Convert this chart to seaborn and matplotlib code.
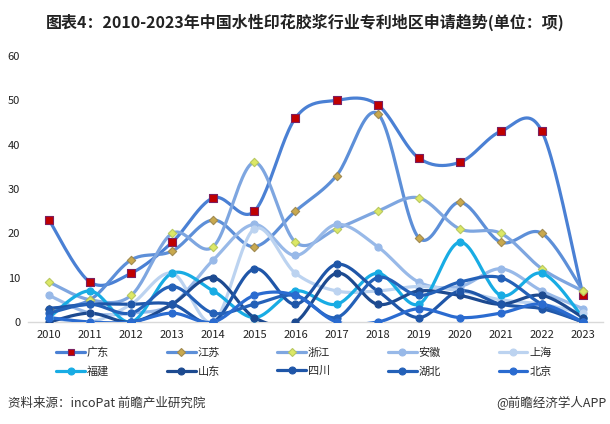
import numpy as np
import pandas as pd
import matplotlib
matplotlib.use("Agg")
import matplotlib.pyplot as plt
import seaborn as sns
from matplotlib.lines import Line2D

# ---------------- data ----------------
years = [2010, 2011, 2012, 2013, 2014, 2015, 2016, 2017, 2018, 2019, 2020, 2021, 2022, 2023]
regions = ["广东", "江苏", "浙江", "安徽", "上海", "福建", "山东", "四川", "湖北", "北京"]
guangdong = [23, 9, 11, 18, 28, 25, 46, 50, 49, 37, 36, 43, 43, 6]
jiangsu = [3, 5, 14, 16, 23, 17, 25, 33, 47, 19, 27, 18, 20, 7]
zhejiang = [9, 5, 6, 20, 17, 36, 18, 21, 25, 28, 21, 20, 12, 7]
anhui = [6, 2, 2, 4, 14, 22, 15, 22, 17, 9, 8, 12, 7, 3]
shanghai = [1, 0, 4, 11, 0, 21, 11, 7, 7, 8, 7, 5, 4, 2]
fujian = [1, 7, 0, 11, 7, 1, 7, 4, 11, 4, 18, 6, 11, 1]
shandong = [0, 2, 0, 4, 10, 1, 0, 11, 4, 7, 6, 4, 6, 1]
sichuan = [3, 4, 4, 4, 0, 12, 4, 13, 7, 1, 7, 4, 3, 0]
hubei = [2, 4, 2, 8, 2, 4, 6, 1, 10, 6, 9, 10, 4, 0]
beijing = [1, 0, 0, 2, 0, 6, 6, 0, 0, 3, 1, 2, 4, 0]
yticks = [0, 10, 20, 30, 40, 50, 60]

series_values = [guangdong, jiangsu, zhejiang, anhui, shanghai,
                 fujian, shandong, sichuan, hubei, beijing]

# ---------------- styles ----------------
line_colors = ["#4a80d4", "#5d8fd8", "#7ea6e0", "#98b9e8", "#bcd3f0",
               "#18ace4", "#1d4a90", "#1f56a8", "#2461b8", "#2a6bd0"]
marker_styles = ["s", "D", "D", "o", "o", "o", "o", "o", "o", "o"]
marker_faces = ["#c00000", "#c9a94e", "#dce866", "#98b9e8", "#bcd3f0",
                "#18ace4", "#1d4a90", "#1f56a8", "#2461b8", "#2a6bd0"]
marker_edges = ["#7a2060", "#a08a50", "#b8c860", "#98b9e8", "#bcd3f0",
                "#18ace4", "#1d4a90", "#1f56a8", "#2461b8", "#2a6bd0"]
marker_sizes = [28, 18, 18, 26, 26, 26, 26, 26, 26, 26]


def smooth(xs, ys, n=24):
    """Excel-like smoothed line (Catmull-Rom Bezier) for rendering."""
    xs = np.asarray(xs, float)
    ys = np.asarray(ys, float)
    P = np.column_stack([xs, ys])
    Pext = np.vstack([P[0], P, P[-1]])
    out = []
    t = np.linspace(0, 1, n, endpoint=False)[:, None]
    for i in range(len(P) - 1):
        p0, p1, p2, p3 = Pext[i], Pext[i + 1], Pext[i + 2], Pext[i + 3]
        c1 = p1 + (p2 - p0) / 6.0
        c2 = p2 - (p3 - p1) / 6.0
        seg = ((1 - t) ** 3) * p1 + 3 * ((1 - t) ** 2) * t * c1 + 3 * (1 - t) * t ** 2 * c2 + t ** 3 * p2
        out.append(seg)
    out.append(P[-1][None, :])
    arr = np.vstack(out)
    return arr[:, 0], arr[:, 1]


sns.set_style("white")
plt.rcParams["font.family"] = ["Noto Sans CJK SC", "DejaVu Sans"]

fig = plt.figure(figsize=(6.10, 4.24), dpi=100)
ax = fig.add_axes([0.0467, 0.2406, 0.9426, 0.6274])

pos = np.arange(len(years))
for i, (name, vals) in enumerate(zip(regions, series_values)):
    sx, sy = smooth(pos, vals)
    df = pd.DataFrame({"x": sx, "y": sy})
    sns.lineplot(data=df, x="x", y="y", sort=False, estimator=None, color=line_colors[i],
                 linewidth=2.3, ax=ax, zorder=2 + i * 0.1)
    sns.scatterplot(x=pos, y=vals, marker=marker_styles[i], color=marker_faces[i],
                    edgecolor=marker_edges[i], linewidth=0.8, s=marker_sizes[i],
                    ax=ax, zorder=3 + i * 0.1)

ax.set_xlim(-0.5, len(years) - 0.5)
ax.set_ylim(0, 60)
ax.set_xticks(pos)
ax.set_xticklabels([str(y) for y in years], fontsize=8, color="#222222")
ax.set_yticks(yticks)
ax.set_yticklabels([str(v) for v in yticks], fontsize=8, color="#222222")
ax.tick_params(axis="both", length=0)
ax.tick_params(axis="x", pad=6)
ax.tick_params(axis="y", pad=6)
ax.set_xlabel("")
ax.set_ylabel("")
for s in ["top", "right", "left"]:
    ax.spines[s].set_visible(False)
ax.spines["bottom"].set_color("#d9d9d9")
ax.spines["bottom"].set_linewidth(1.0)
ax.grid(False)

handles = []
for i, name in enumerate(regions):
    ms = 5 if marker_styles[i] == "s" else (4.5 if marker_styles[i] == "D" else 5)
    handles.append(Line2D([0], [0], color=line_colors[i], lw=2.3, marker=marker_styles[i],
                          markersize=ms, markerfacecolor=marker_faces[i],
                          markeredgecolor=marker_edges[i], markeredgewidth=0.8))
# row-major order for a 2x5 legend (matplotlib fills column by column)
order = [0, 5, 1, 6, 2, 7, 3, 8, 4, 9]
fig.legend([handles[k] for k in order], [regions[k] for k in order], ncol=5, loc="center",
           bbox_to_anchor=(0.498, 0.146), frameon=False, fontsize=8, handlelength=2.6,
           handletextpad=0.15, columnspacing=5.2, labelspacing=0.75)

fig.text(0.5, 0.948, "图表4：2010-2023年中国水性印花胶浆行业专利地区申请趋势(单位：项)",
         ha="center", va="center", fontsize=11.5, fontweight="bold", color="#222222")
fig.text(0.013, 0.05, "资料来源：incoPat 前瞻产业研究院", ha="left", va="center",
         fontsize=9, color="#333333")
fig.text(0.995, 0.05, "@前瞻经济学人APP", ha="right", va="center",
         fontsize=9, color="#333333")

fig.savefig("out.png", dpi=100)
